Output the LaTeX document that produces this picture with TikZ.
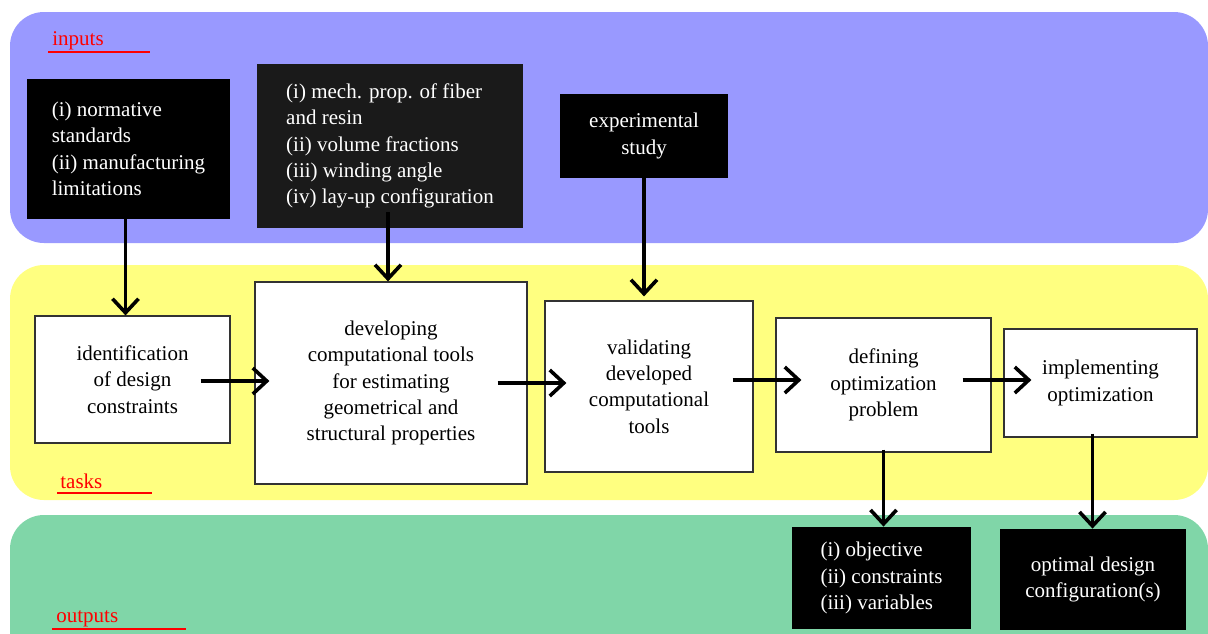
\documentclass[tikz,border=0pt]{standalone}
\usepackage{fontspec}
\setmainfont{Liberation Serif}
\usepackage{xcolor}
\usetikzlibrary{arrows.meta}
\definecolor{inblue}{RGB}{153,153,255}
\definecolor{taskyellow}{RGB}{255,255,128}
\definecolor{outgreen}{RGB}{128,214,168}
\definecolor{darkbox}{RGB}{26,26,26}

\begin{document}
\begin{tikzpicture}[x=0.5pt,y=-0.5pt,font=\fontsize{10.5}{13.2}\selectfont,
    band/.style={rounded corners=17pt},
    blackbox/.style={fill=black,text=white,inner sep=0pt},
    taskbox/.style={draw=black!80,line width=0.6pt,fill=white,align=center,inner sep=0pt},
    flow/.style={-{Straight Barb[length=7pt,width=13pt]},line width=1.8pt},
    lbl/.style={red,anchor=base west,inner sep=0pt},
    uline/.style={red,line width=0.9pt}]
  \useasboundingbox (0,0) rectangle (1208,633);
  \fill[band,inblue] (10,12) rectangle (1208,243);
  \fill[band,taskyellow] (10,265) rectangle (1208,500);
  \fill[band,outgreen] (10,515) rectangle (1208,680);

  \node[lbl] (inlbl) at (52,45) {inputs};
  \draw[uline] (48,52) -- (150,52);
  \node[lbl] (tasklbl) at (60,488) {tasks};
  \draw[uline] (57,493) -- (152,493);
  \node[lbl] (outlbl) at (56,622) {outputs};
  \draw[uline] (52,629) -- (186,629);

  \node[blackbox,align=left,minimum width=101.5pt,minimum height=70pt] (in1) at (128.5,149)
    {(i) normative\\standards\\(ii) manufacturing\\limitations};
  \node[blackbox,fill=darkbox,align=left,minimum width=133pt,minimum height=82pt] (in2) at (390,146)
    {(i) mech. prop. of fiber\\and resin\\(ii) volume fractions\\(iii) winding angle\\(iv) lay-up configuration};
  \node[blackbox,align=center,minimum width=84pt,minimum height=42pt] (in3) at (644,136)
    {experimental\\study};

  \node[taskbox,minimum width=97.5pt,minimum height=63.5pt] (t1) at (132.5,379.5)
    {identification\\of design\\constraints};
  \node[taskbox,minimum width=136pt,minimum height=101pt] (t2) at (391,383)
    {developing\\computational tools\\for estimating\\geometrical and\\structural properties};
  \node[taskbox,minimum width=104pt,minimum height=85.5pt] (t3) at (649,386.5)
    {validating\\developed\\computational\\tools};
  \node[taskbox,minimum width=107.5pt,minimum height=67pt] (t4) at (883.5,385)
    {defining\\optimization\\problem};
  \node[taskbox,minimum width=96.5pt,minimum height=54pt] (t5) at (1100.5,383)
    {implementing\\optimization};

  \node[blackbox,align=left,minimum width=89.5pt,minimum height=51pt] (out1) at (881.5,578)
    {(i) objective\\(ii) constraints\\(iii) variables};
  \node[blackbox,align=center,minimum width=93pt,minimum height=50.5pt] (out2) at (1093,579.5)
    {optimal design\\configuration(s)};

  \draw[flow] ([xshift=-1.5pt]in1.south) -- ([xshift=-1.5pt]in1.south |- t1.north);
  \draw[flow] ([xshift=-1pt,yshift=8pt]in2.south) -- ([xshift=-1pt]in2.south |- t2.north);
  \draw[flow] (in3.south) -- ([yshift=2pt]in3.south |- t3.north);
  \foreach \a/\b/\s/\e/\h in {t1/t2/15/7.5/-0.75, t2/t3/15/11/0, t3/t4/10.5/13/3.25, t4/t5/14.5/14/2.5}
    \draw[flow] ([xshift=-\s pt,yshift=\h pt]\a.east) -- ([xshift=\e pt,yshift=\h pt]\b.west |- \a.east);
  \draw[flow] ([yshift=1.5pt]t4.south) -- (t4.south |- out1.north);
  \draw[flow] ([xshift=-4pt,yshift=2pt]t5.south) -- ([xshift=-4pt]t5.south |- out2.north);
\end{tikzpicture}
\end{document}
